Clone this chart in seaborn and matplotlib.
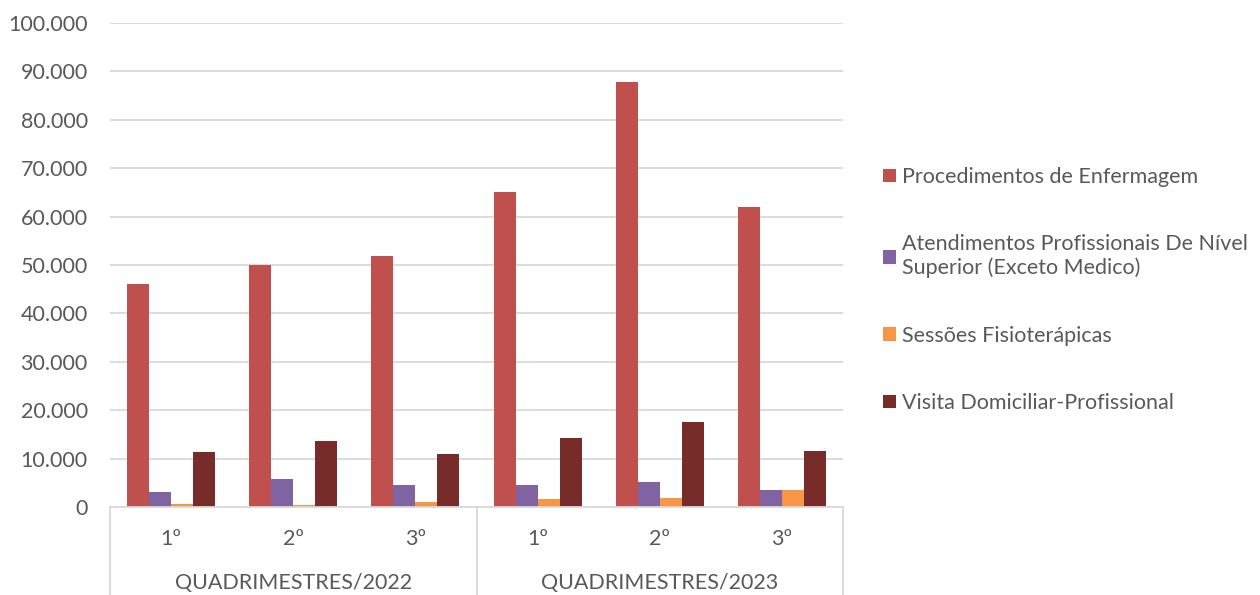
import matplotlib
matplotlib.use("Agg")
import matplotlib.pyplot as plt
import matplotlib.ticker as mticker
from matplotlib.lines import Line2D
import pandas as pd
import seaborn as sns

sns.set_theme(style="white")
plt.rcParams['font.family'] = ['Lato', 'DejaVu Sans']

# dados
periodos = ["1º", "2º", "3º", "1º", "2º", "3º"]
anos = ["2022", "2022", "2022", "2023", "2023", "2023"]
grupos = ["QUADRIMESTRES/2022", "QUADRIMESTRES/2023"]
series = ["Procedimentos de Enfermagem",
          "Atendimentos Profissionais De Nível\nSuperior (Exceto Medico)",
          "Sessões Fisioterápicas",
          "Visita Domiciliar-Profissional"]
enfermagem = [46000, 50100, 51800, 65000, 87900, 62000]
nivel_superior = [3200, 5800, 4500, 4500, 5200, 3500]
fisioterapia = [600, 500, 1000, 1600, 1900, 3600]
visita = [11400, 13600, 11000, 14300, 17600, 11600]
cores = ["#C0504D", "#8064A2", "#F79646", "#772C2A"]

chaves = [p + "/" + a for p, a in zip(periodos, anos)]
linhas = []
for nome, valores in zip(series, [enfermagem, nivel_superior, fisioterapia, visita]):
    for k, v in zip(chaves, valores):
        linhas.append({"periodo": k, "serie": nome, "valor": v})
df = pd.DataFrame(linhas)

cinza_txt = "#595959"
cinza_linha = "#D9D9D9"
fs = 15.5

fig = plt.figure(figsize=(12.6, 5.95), dpi=100)
ax = fig.add_axes([110 / 1260, 1 - 507 / 595, 733 / 1260, 484 / 595])

sns.barplot(data=df, x="periodo", y="valor", hue="serie", order=chaves,
            hue_order=series, palette=cores, width=0.72, gap=0,
            saturation=1, edgecolor="none", ax=ax)

ax.set_ylim(0, 100000)
ax.set_xlim(-0.5, 5.5)
ax.yaxis.set_major_locator(mticker.MultipleLocator(10000))
ax.yaxis.set_major_formatter(
    mticker.FuncFormatter(lambda v, p: "{:,.0f}".format(v).replace(",", ".")))
ax.grid(axis="y", color=cinza_linha, lw=1.3)
ax.set_axisbelow(True)
for s in ["top", "right", "left"]:
    ax.spines[s].set_visible(False)
ax.spines["bottom"].set_color(cinza_linha)
ax.spines["bottom"].set_linewidth(1.3)
ax.tick_params(axis="y", length=0, labelsize=fs, labelcolor=cinza_txt, pad=16)
ax.tick_params(axis="x", length=0, labelsize=fs, labelcolor=cinza_txt, pad=16)
ax.set_xticks(range(len(periodos)))
ax.set_xticklabels(periodos)
ax.set_xlabel("")
ax.set_ylabel("")

# separadores e rótulos dos grupos
prof = 88 / 484
for xs in [-0.5, 2.5, 5.5]:
    ax.add_line(Line2D([xs, xs], [0, -prof], transform=ax.get_xaxis_transform(),
                       color=cinza_linha, lw=1.3, clip_on=False))
for i, g in enumerate(grupos):
    ax.text(1 + 3 * i, -(583 - 507) / 484, g, transform=ax.get_xaxis_transform(),
            ha="center", va="center", fontsize=fs, color=cinza_txt)

h, l = ax.get_legend_handles_labels()
ax.legend(h, l, loc="center left", bbox_to_anchor=(874 / 1260, (595 - 290) / 595),
          bbox_transform=fig.transFigure, frameon=False, fontsize=fs,
          labelcolor=cinza_txt, handlelength=0.6, handleheight=0.6,
          handletextpad=0.3, labelspacing=2.2, borderaxespad=0)

fig.savefig("out.png", dpi=100)
